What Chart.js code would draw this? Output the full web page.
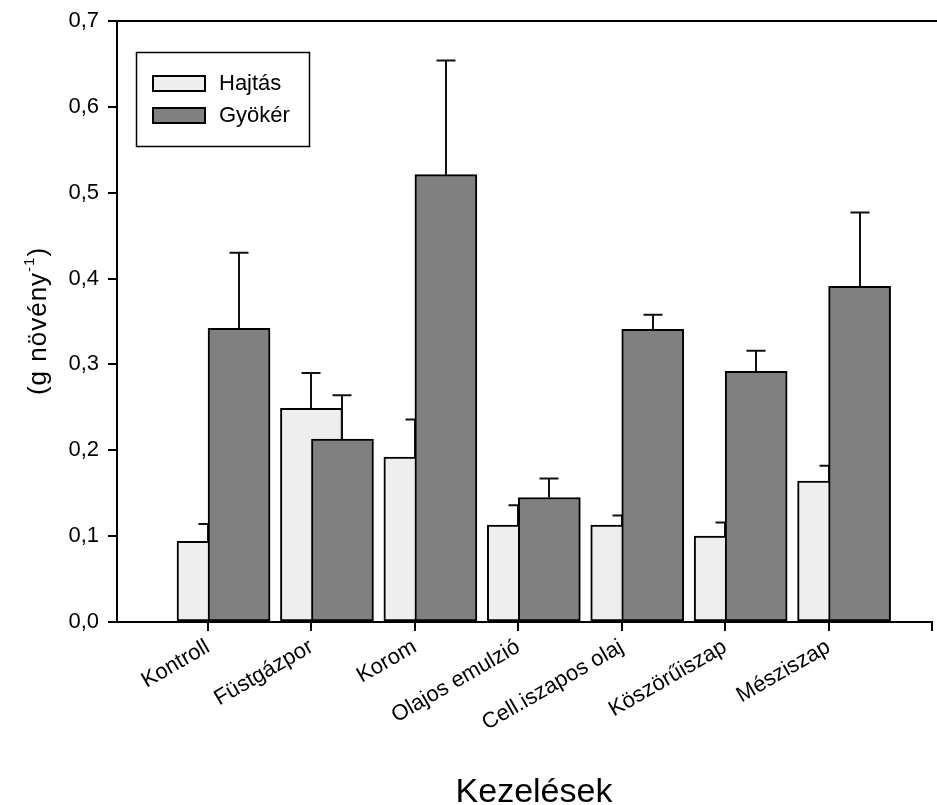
<!DOCTYPE html>
<html>
<head>
<meta charset="utf-8">
<script src="https://cdn.jsdelivr.net/npm/chart.js@4.4.0/dist/chart.umd.min.js"></script>
<style>
  html, body { margin: 0; padding: 0; background: #ffffff; }
  #wrap { width: 937px; height: 805px; }
</style>
</head>
<body>
<div id="wrap"><canvas id="chart" width="937" height="805"></canvas></div>
<script>
// Treatments on the horizontal axis
const categories = ['Kontroll', 'Füstgázpor', 'Korom', 'Olajos emulzió', 'Cell.iszapos olaj', 'Köszörűiszap', 'Mésziszap'];
const seriesNames = ['Hajtás', 'Gyökér'];

// Dry mass per plant (g növény^-1), means and upper error bars
const hajtas     = [0.094, 0.249, 0.192, 0.113, 0.113, 0.100, 0.164];
const hajtasErr  = [0.020, 0.041, 0.044, 0.023, 0.011, 0.016, 0.018];
const gyoker     = [0.342, 0.213, 0.521, 0.145, 0.341, 0.292, 0.391];
const gyokerErr  = [0.088, 0.051, 0.133, 0.022, 0.017, 0.024, 0.086];

const yTicks = [0, 0.1, 0.2, 0.3, 0.4, 0.5, 0.6, 0.7];
const xTicks = [1, 2, 3, 4, 5, 6, 7, 8];

const FONT = '"Liberation Sans", Arial, Helvetica, sans-serif';
const colors = ['#eeeeee', '#808080'];
// Root bars overlap the shoot bars, shifted half a bar to the right
const ROOT_SHIFT = 0.3;

const errorBars = {
  id: 'errorBars',
  afterDatasetDraw(chart, args) {
    const ds = chart.data.datasets[args.index];
    const yScale = chart.scales.y;
    const ctx = chart.ctx;
    ctx.save();
    ctx.strokeStyle = '#111';
    ctx.lineWidth = 2;
    args.meta.data.forEach((bar, i) => {
      const top = yScale.getPixelForValue(ds.data[i].y + ds.errors[i]);
      const x = Math.round(bar.x);
      ctx.beginPath();
      ctx.moveTo(x, bar.y);
      ctx.lineTo(x, top);
      ctx.moveTo(x - 9.5, top);
      ctx.lineTo(x + 9.5, top);
      ctx.stroke();
    });
    ctx.restore();
  }
};

const decorations = {
  id: 'decorations',
  afterDraw(chart) {
    const ctx = chart.ctx;
    const area = chart.chartArea;
    ctx.save();

    // frame line along the top
    ctx.strokeStyle = '#000';
    ctx.lineWidth = 2;
    ctx.beginPath();
    ctx.moveTo(area.left, area.top);
    ctx.lineTo(chart.width, area.top);
    ctx.stroke();

    // legend box
    const bx = 136, by = 52, bw = 173, bh = 94;
    ctx.fillStyle = '#fff';
    ctx.fillRect(bx, by, bw, bh);
    ctx.lineWidth = 1.5;
    ctx.strokeRect(bx + 0.5, by + 0.5, bw, bh);
    chart.data.datasets.forEach((ds, i) => {
      const sy = 75 + i * 32;
      ctx.fillStyle = '#000';
      ctx.fillRect(152, sy, 54, 17);
      ctx.fillStyle = ds.backgroundColor;
      ctx.fillRect(154, sy + 2, 50, 13);
      ctx.fillStyle = '#000';
      ctx.font = '22px ' + FONT;
      ctx.textAlign = 'left';
      ctx.textBaseline = 'middle';
      ctx.fillText(ds.label, 219, sy + 9);
    });

    // y-axis title with superscript
    ctx.save();
    ctx.translate(46, 321);
    ctx.rotate(-Math.PI / 2);
    ctx.fillStyle = '#000';
    ctx.textBaseline = 'alphabetic';
    ctx.textAlign = 'left';
    const mainTxt = '(g növény', supTxt = '-1', closeTxt = ')';
    ctx.font = '26px ' + FONT;
    ctx.letterSpacing = '1px';
    const w1 = ctx.measureText(mainTxt).width;
    const w3 = ctx.measureText(closeTxt).width;
    ctx.font = '15px ' + FONT;
    const w2 = ctx.measureText(supTxt).width;
    const start = -(w1 + w2 + w3) / 2;
    ctx.font = '26px ' + FONT;
    ctx.fillText(mainTxt, start, 0);
    ctx.font = '15px ' + FONT;
    ctx.fillText(supTxt, start + w1, -12);
    ctx.font = '26px ' + FONT;
    ctx.fillText(closeTxt, start + w1 + w2, 0);
    ctx.restore();

    // x-axis title
    ctx.font = '34px ' + FONT;
    ctx.textAlign = 'center';
    ctx.textBaseline = 'alphabetic';
    ctx.fillStyle = '#000';
    ctx.fillText('Kezelések', 534, 802);

    ctx.restore();
  }
};

new Chart(document.getElementById('chart'), {
  type: 'bar',
  data: {
    datasets: [
      {
        label: seriesNames[0],
        data: hajtas.map((v, i) => ({ x: i + 1, y: v })),
        errors: hajtasErr,
        backgroundColor: colors[0],
        borderColor: '#000',
        borderWidth: 2,
        borderSkipped: false,
        order: 2
      },
      {
        label: seriesNames[1],
        data: gyoker.map((v, i) => ({ x: i + 1 + ROOT_SHIFT, y: v })),
        errors: gyokerErr,
        backgroundColor: colors[1],
        borderColor: '#000',
        borderWidth: 2,
        borderSkipped: false,
        order: 1
      }
    ]
  },
  options: {
    responsive: false,
    animation: false,
    devicePixelRatio: 1,
    layout: { padding: { top: 21, right: 5, left: 0, bottom: 0 } },
    datasets: { bar: { grouped: false, barThickness: 62 } },
    plugins: { legend: { display: false }, tooltip: { enabled: false } },
    scales: {
      x: {
        type: 'linear',
        min: 0.12,
        max: 8,
        offset: false,
        afterBuildTicks: s => { s.ticks = xTicks.map(v => ({ value: v })); },
        afterFit: s => { s.height = 183; s.paddingLeft = 0; s.paddingRight = 0; },
        grid: { offset: false, drawOnChartArea: false, drawTicks: true, tickLength: 9, color: '#000', lineWidth: 2 },
        border: { display: true, color: '#000', width: 2 },
        ticks: {
          autoSkip: false,
          maxRotation: 30,
          minRotation: 30,
          padding: 3,
          color: '#000',
          font: { family: FONT, size: 22 },
          callback: v => categories[v - 1] || ''
        }
      },
      y: {
        min: 0,
        max: 0.7,
        afterBuildTicks: s => { s.ticks = yTicks.map(v => ({ value: v })); },
        afterFit: s => { s.width = 117; s.paddingTop = 0; s.paddingBottom = 0; },
        grid: { drawOnChartArea: false, drawTicks: true, tickLength: 9, color: '#000', lineWidth: 2 },
        border: { display: true, color: '#000', width: 2 },
        ticks: {
          padding: 9,
          color: '#000',
          font: { family: FONT, size: 22 },
          callback: v => v.toFixed(1).replace('.', ',')
        }
      }
    }
  },
  plugins: [errorBars, decorations]
});
</script>
</body>
</html>
